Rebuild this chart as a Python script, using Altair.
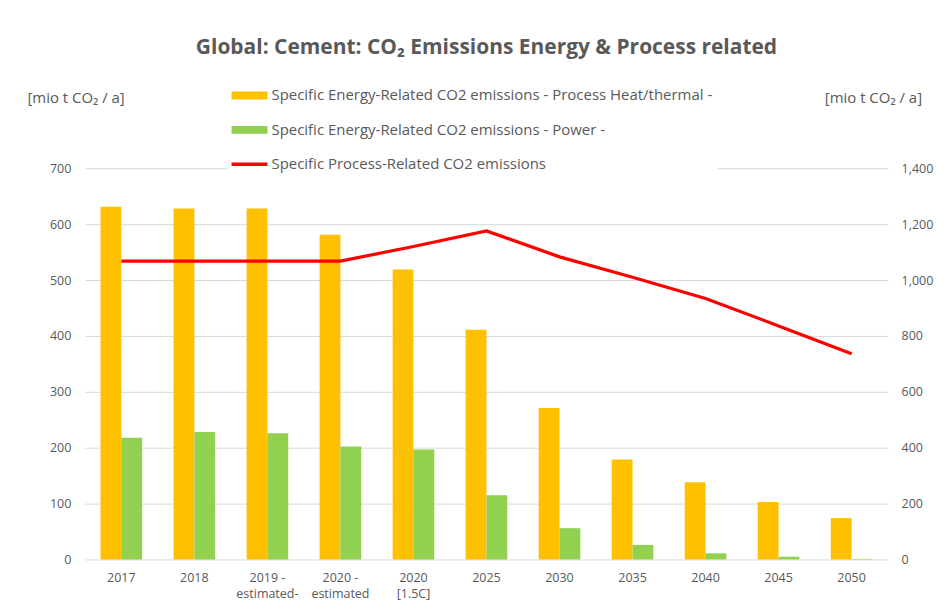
import altair as alt
import pandas as pd

categories = ["2017", "2018", "2019 -\nestimated-", "2020 -\nestimated", "2020\n[1.5C]",
              "2025", "2030", "2035", "2040", "2045", "2050"]
s_heat = "Specific Energy-Related CO2 emissions - Process Heat/thermal -"
s_power = "Specific Energy-Related CO2 emissions - Power -"
s_proc = "Specific Process-Related CO2 emissions"
series_names = [s_heat, s_power, s_proc]

heat = [631, 628, 628, 581, 519, 411, 271, 179, 138, 103, 74]
power = [218, 228, 226, 202, 197, 115, 56, 26, 11, 5, 1]
process = [1068, 1068, 1068, 1068, 1120, 1176, 1083, 1010, 934, 836, 736]

left_ticks = [0, 100, 200, 300, 400, 500, 600, 700]
right_ticks = [0, 200, 400, 600, 800, 1000, 1200, 1400]

bars = pd.DataFrame(
    [{"cat": c, "series": s_heat, "value": v} for c, v in zip(categories, heat)]
    + [{"cat": c, "series": s_power, "value": v} for c, v in zip(categories, power)]
)
line = pd.DataFrame({"cat": categories, "value": process})
legend_df = pd.DataFrame({"series": series_names})

FONT = "Open Sans"
GREY = "#595959"
COLORS = ["#FFC000", "#92D050", "#FF0000"]
BAR_SYM = "M-1,-0.22H1V0.22H-1Z"
LINE_SYM = "M-1,-0.1H1V0.1H-1Z"

color_scale = alt.Scale(domain=series_names, range=COLORS)

leg = alt.Legend(orient="none", legendX=143, legendY=-95, title=None,
                 symbolSize=1296, labelFontSize=15, labelColor=GREY, labelFont=FONT,
                 fillColor="white", padding=4, rowPadding=8.5, labelOffset=4,
                 symbolStrokeWidth=0, symbolOpacity=1, labelLimit=700)

xenc = alt.X(
    "cat:N", sort=categories, title=None,
    scale=alt.Scale(paddingInner=0.43, paddingOuter=0.215),
    axis=alt.Axis(labelExpr="split(datum.label, '\\n')", labelAngle=0, labelPadding=12,
                  labelFontSize=12.5, labelColor=GREY, labelFont=FONT, labelLineHeight=16,
                  domain=False, ticks=False, grid=False),
)

bar_layer = alt.Chart(bars).mark_bar().encode(
    x=xenc,
    xOffset=alt.XOffset("series:N", sort=[s_heat, s_power],
                        scale=alt.Scale(domain=[s_heat, s_power], paddingInner=0, paddingOuter=0)),
    y=alt.Y("value:Q", scale=alt.Scale(domain=[0, 700], nice=False),
            axis=alt.Axis(values=left_ticks, title="[mio t CO₂ / a]", titleAngle=0,
                          titleX=-58, titleY=-71, titleAlign="left", titleBaseline="middle",
                          titleFontSize=15, titleFontWeight="normal", titleColor=GREY, titleFont=FONT,
                          labelFontSize=12.5, labelColor=GREY, labelFont=FONT, labelPadding=14,
                          domain=False, ticks=False, grid=True, gridColor="#d9d9d9")),
    color=alt.Color("series:N", scale=color_scale, legend=leg),
)

legend_layer = alt.Chart(legend_df).mark_point(filled=True).encode(
    color=alt.Color("series:N", scale=color_scale, legend=leg),
    shape=alt.Shape("series:N", scale=alt.Scale(domain=series_names,
                                                range=[BAR_SYM, BAR_SYM, LINE_SYM]),
                    legend=leg),
).transform_filter("false")

line_layer = alt.Chart(line).mark_line(color="#FF0000", strokeWidth=3.2).encode(
    x=alt.X("cat:N", sort=categories),
    y=alt.Y("value:Q", scale=alt.Scale(domain=[0, 1400], nice=False),
            axis=alt.Axis(orient="right", values=right_ticks, format=",.0f",
                          title="[mio t CO₂ / a]", titleAngle=0,
                          titleX=-64, titleY=-71, titleAlign="left", titleBaseline="middle",
                          titleFontSize=15, titleFontWeight="normal", titleColor=GREY, titleFont=FONT,
                          labelFontSize=12.5, labelColor=GREY, labelFont=FONT, labelPadding=13,
                          domain=False, ticks=False, grid=False)),
)

chart = alt.layer(bar_layer, line_layer, legend_layer).resolve_scale(y="independent").properties(
    width=805, height=392,
    autosize=alt.AutoSizeParams(type="none"),
    padding={"left": 77, "top": 160, "right": 53, "bottom": 48},
    title=alt.TitleParams("Global: Cement: CO₂ Emissions Energy & Process related",
                          fontSize=21, fontWeight="bold", color=GREY, font=FONT,
                          anchor="middle", frame="group", offset=16),
).configure_view(stroke=None)

chart.save("out.html", embed_options={"renderer": "svg", "actions": False})
